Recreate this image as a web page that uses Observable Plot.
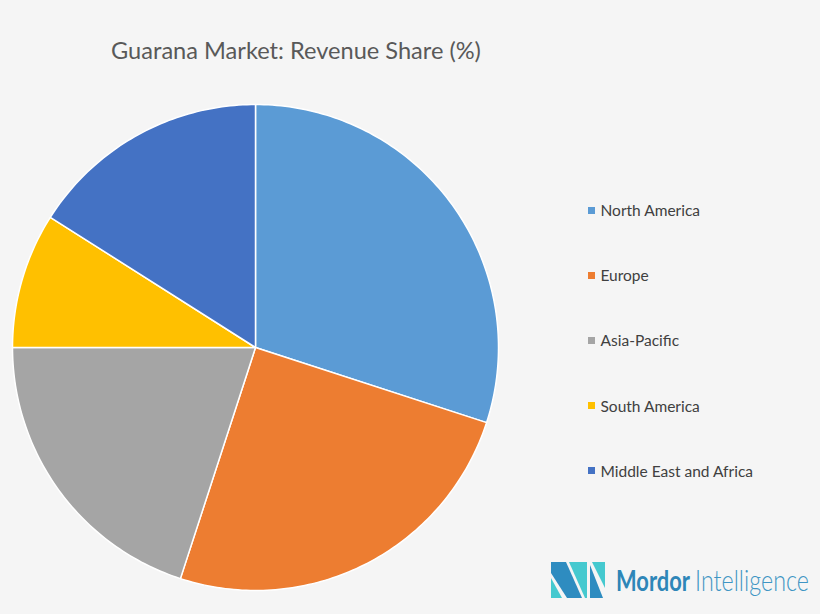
<!DOCTYPE html>
<html>
<head>
<meta charset="utf-8">
<script src="https://cdn.jsdelivr.net/npm/d3@7"></script>
<script src="https://cdn.jsdelivr.net/npm/@observablehq/plot@0.6"></script>
<style>
  html, body { margin: 0; padding: 0; background: #f5f5f5; }
  #page { position: relative; width: 820px; height: 614px; overflow: hidden; background: #f5f5f5; font-family: Lato, sans-serif; }
  #title { position: absolute; left: 0; top: 35px; width: 592px; text-align: center; font-size: 23.6px; line-height: 30px; color: #595959; white-space: nowrap; }
  #chart { position: absolute; left: 5px; top: 97px; }
  #legend { position: absolute; left: 588px; top: 178px; }
  .row { position: absolute; left: 0; height: 20px; white-space: nowrap; font-size: 15.5px; line-height: 20px; color: #404040; }
  .row i { position: absolute; left: 0; top: 6.5px; width: 7px; height: 7px; }
  .row span { position: absolute; left: 12.5px; top: 0; }
  #logo { position: absolute; left: 548px; top: 558px; }
</style>
</head>
<body>
<div id="page">
  <div id="title"></div>
  <div id="chart"></div>
  <div id="legend"></div>
  <svg id="logo" width="272" height="46" viewBox="0 0 272 46">
    <polygon points="3,4 18,4 34,40 19,40 3,15" fill="#2e8cc0"/>
    <polygon points="3,20 14,40 3,40" fill="#45c9cf"/>
    <polygon points="21,4 39,4 39,40 37,40" fill="#45c9cf"/>
    <polygon points="44,4 57,4 57,30" fill="#45c9cf"/>
    <polygon points="42,7 55,40 42,40" fill="#2e8cc0"/>
    <text class="fit" data-x="68" data-w="74" font-family="Lato, sans-serif" font-size="28" font-weight="700" fill="#2e86b8">Mordor</text>
    <text class="fit" data-x="147" data-w="114" font-family="Lato, sans-serif" font-size="29" font-weight="300" fill="#3f95c4">Intelligence</text>
  </svg>
</div>
<script>
const titleText = "Guarana Market: Revenue Share (%)";
const categories = ["North America", "Europe", "Asia-Pacific", "South America", "Middle East and Africa"];
const shares = [30, 25, 20, 9, 16];
const colors = ["#5b9bd5", "#ed7d31", "#a5a5a5", "#ffc000", "#4472c4"];

document.getElementById("title").textContent = titleText;

// Narrow the logo wordmark so each word takes up the width it has in the reference.
document.querySelectorAll("#logo .fit").forEach(t => {
  const s = +t.dataset.w / t.getComputedTextLength();
  t.setAttribute("transform", `translate(${t.dataset.x},33) scale(${s},1)`);
});

// Turn each share into a wedge outline on the unit circle, clockwise from 12 o'clock.
const total = d3.sum(shares);
const wedges = [];
let running = 0;
categories.forEach((name, i) => {
  const start = running / total * 2 * Math.PI;
  running += shares[i];
  const end = running / total * 2 * Math.PI;
  wedges.push({name, x: 0, y: 0});
  const steps = Math.max(2, Math.ceil((end - start) / (Math.PI / 180)));
  for (let k = 0; k <= steps; k++) {
    const a = start + (end - start) * k / steps;
    wedges.push({name, x: Math.sin(a), y: Math.cos(a)});
  }
  wedges.push({name, x: 0, y: 0});
});

const plot = Plot.plot({
  width: 500,
  height: 500,
  margin: 0,
  style: {background: "transparent", overflow: "visible"},
  x: {domain: [-1, 1], range: [7, 493], axis: null},
  y: {domain: [-1, 1], range: [493, 7], axis: null},
  color: {domain: categories, range: colors},
  marks: [
    Plot.line(wedges, {
      x: "x", y: "y", z: "name", fill: "name",
      stroke: "#ffffff", strokeWidth: 1.5, strokeLinejoin: "round", curve: "linear"
    })
  ]
});
document.getElementById("chart").appendChild(plot);

const legend = document.getElementById("legend");
categories.forEach((name, i) => {
  const row = document.createElement("div");
  row.className = "row";
  row.style.top = (22 + i * 65.2) + "px";
  const sw = document.createElement("i");
  sw.style.background = colors[i];
  const label = document.createElement("span");
  label.textContent = name;
  row.append(sw, label);
  legend.appendChild(row);
});
</script>
</body>
</html>
